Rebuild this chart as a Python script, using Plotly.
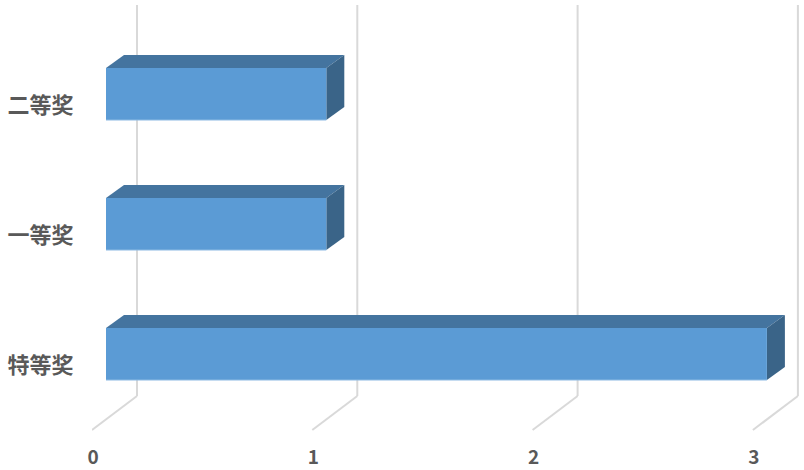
import plotly.graph_objects as go

categories = ["特等奖", "一等奖", "二等奖"]
values = [3, 1, 1]
axis_ticks = [0, 1, 2, 3]

W, H = 804, 470
LEFT, BOTTOM = 92, 38
PX_X = 220.3
PX_Y = 130.0
ZERO_X = 106.0
ZERO_Y = 354.0
TICK_ZERO_X = 93.0
LABEL_ZERO_Y = 365.0

def dx(p):
    return p / PX_X

def dy(p):
    return p / PX_Y

FRONT = "#5B9BD5"
EDGE = "#8DBAE3"
TOP = "#44749F"
SIDE = "#3A6488"
GRID = "#D9D9D9"
TEXT = "#595959"
half = dy(26)
depth_x, depth_y = dx(18), dy(13)

fig = go.Figure()

# holder for the labelled axes
fig.add_trace(go.Scatter(x=axis_ticks[:len(categories)], y=list(range(len(categories))), mode="none",
                         xaxis="x", yaxis="y", showlegend=False, hoverinfo="skip"))

# walls and floor lines
for t in axis_ticks:
    fig.add_trace(go.Scatter(
        x=[t + dx(31), t + dx(31)], y=[dy(ZERO_Y - 5), dy(ZERO_Y - 396)],
        mode="lines", line=dict(color=GRID, width=2), xaxis="x2", yaxis="y2",
        showlegend=False, hoverinfo="skip"))
    fig.add_trace(go.Scatter(
        x=[t + dx(31), t + dx(-14)], y=[dy(ZERO_Y - 396), dy(ZERO_Y - 430)],
        mode="lines", line=dict(color=GRID, width=2), xaxis="x2", yaxis="y2",
        showlegend=False, hoverinfo="skip"))

# bars
for i, v in enumerate(values):
    fig.add_trace(go.Scatter(
        x=[0, v, v + depth_x, depth_x, 0],
        y=[i + half, i + half, i + half + depth_y, i + half + depth_y, i + half],
        mode="lines", fill="toself", fillcolor=TOP, line=dict(width=0),
        xaxis="x2", yaxis="y2", showlegend=False, hoverinfo="skip"))
    fig.add_trace(go.Scatter(
        x=[v, v + depth_x, v + depth_x, v, v],
        y=[i - half, i - half + depth_y, i + half + depth_y, i + half, i - half],
        mode="lines", fill="toself", fillcolor=SIDE, line=dict(width=0),
        xaxis="x2", yaxis="y2", showlegend=False, hoverinfo="skip"))
    fig.add_trace(go.Scatter(
        x=[0, v, v, 0, 0],
        y=[i - half, i - half, i + half, i + half, i - half],
        mode="lines", fill="toself", fillcolor=FRONT, line=dict(width=0),
        xaxis="x2", yaxis="y2", showlegend=False, hoverinfo="skip"))
    fig.add_trace(go.Scatter(
        x=[0, v], y=[i - half, i - half],
        mode="lines", line=dict(color=EDGE, width=1),
        xaxis="x2", yaxis="y2", showlegend=False, hoverinfo="skip"))

plot_h = H - BOTTOM
x_range = [(LEFT - TICK_ZERO_X) / PX_X, (W - TICK_ZERO_X) / PX_X]
x2_range = [(LEFT - ZERO_X) / PX_X, (W - ZERO_X) / PX_X]
y_range = [(LABEL_ZERO_Y - plot_h) / PX_Y, LABEL_ZERO_Y / PX_Y]
y2_range = [(ZERO_Y - plot_h) / PX_Y, ZERO_Y / PX_Y]

fig.update_layout(
    width=W, height=H, autosize=False,
    margin=dict(l=LEFT, r=0, t=0, b=BOTTOM, autoexpand=False),
    paper_bgcolor="white", plot_bgcolor="white",
    xaxis=dict(range=x_range, tickvals=axis_ticks, ticktext=[str(t) for t in axis_ticks],
               showgrid=False, zeroline=False, showline=False,
               ticks="outside", ticklen=8, tickcolor="rgba(0,0,0,0)",
               tickfont=dict(family="Noto Sans CJK SC, Liberation Sans", size=19, color=TEXT, weight="bold"),
               fixedrange=True),
    xaxis2=dict(range=x2_range, overlaying="x", visible=False, anchor="y2", fixedrange=True),
    yaxis=dict(range=y_range, tickvals=list(range(len(categories))), ticktext=categories,
               showgrid=False, zeroline=False, showline=False,
               ticks="outside", ticklen=13, tickcolor="rgba(0,0,0,0)",
               tickfont=dict(family="Noto Sans CJK SC", size=22, color=TEXT, weight="bold"),
               fixedrange=True),
    yaxis2=dict(range=y2_range, overlaying="y", visible=False, anchor="x2", fixedrange=True),
)
fig.write_html("out.html", config={"displayModeBar": False},
               post_script="document.body.style.margin='0';document.body.style.overflow='hidden';")
